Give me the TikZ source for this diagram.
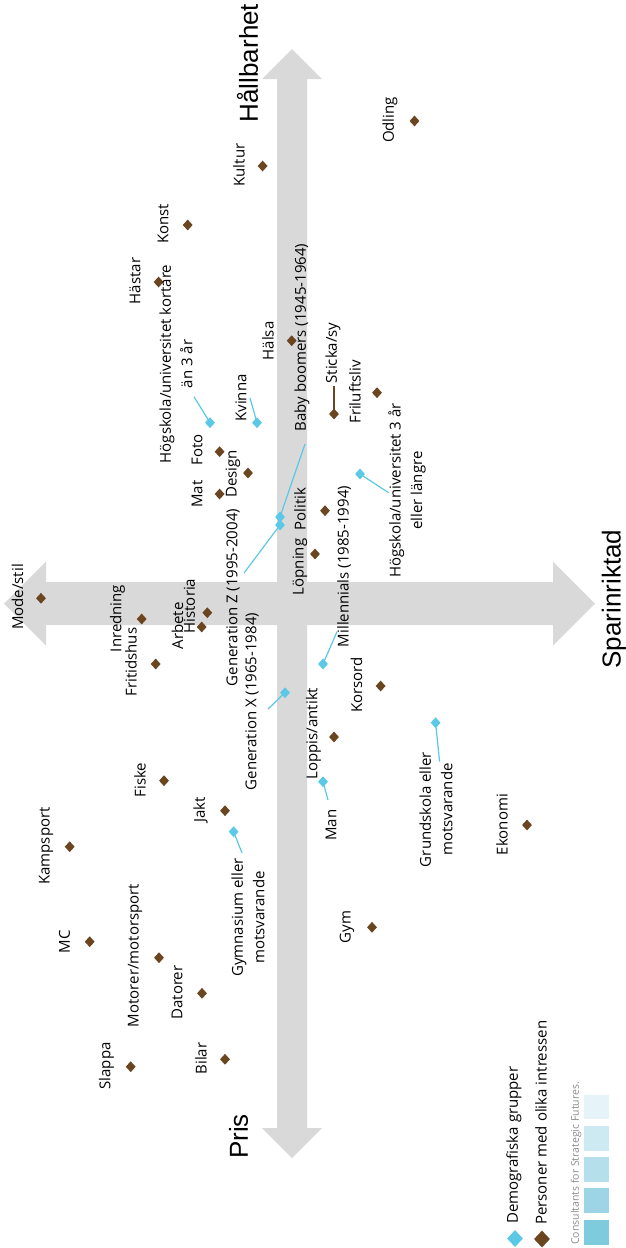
\documentclass[tikz,border=0pt]{standalone}
\usepackage{fontspec}
\setmainfont{Open Sans}
\newfontfamily\axisfont{Liberation Sans}
\usetikzlibrary{shapes.geometric}
\definecolor{axisgray}{HTML}{D9D9D9}
\definecolor{dbrown}{HTML}{6B4520}
\definecolor{dcyan}{HTML}{5BC8E6}
\definecolor{sqa}{HTML}{E6F4F9}
\definecolor{sqb}{HTML}{CDE9F2}
\definecolor{sqc}{HTML}{B5DFEB}
\definecolor{sqd}{HTML}{9DD5E6}
\definecolor{sqe}{HTML}{7FCBDE}
\definecolor{brandgray}{HTML}{8C8C8C}
\tikzset{
  lbl/.style={rotate=90, inner sep=0pt, align=center, font=\fontsize{15}{21.5}\selectfont},
  axlbl/.style={rotate=90, inner sep=0pt, font=\axisfont\fontsize{26}{30}\selectfont},
  bd/.style={diamond, fill=dbrown, inner sep=0pt, minimum width=10pt, minimum height=11pt},
  cd/.style={diamond, fill=dcyan, inner sep=0pt, minimum width=10pt, minimum height=11pt},
  cl/.style={draw=dcyan, line width=1.2pt},
  bl/.style={draw=dbrown, line width=1.2pt},
  arrowshape/.style={fill=axisgray, draw=none},
  sq/.style={draw=none, minimum width=25pt, minimum height=24.5pt, inner sep=0pt}
}
\begin{document}
\begin{tikzpicture}[x=1pt,y=-1pt]
\useasboundingbox (0,0) rectangle (625,1248);
% axes
\fill[arrowshape] (292,49) -- (322,79) -- (307,79) -- (307,1128) -- (322,1128) -- (292,1158) -- (262,1128) -- (277,1128) -- (277,79) -- (262,79) -- cycle;
\fill[arrowshape] (4,603.5) -- (46,561.5) -- (46,582) -- (553,582) -- (553,561.5) -- (595,603.5) -- (553,645.5) -- (553,625) -- (46,625) -- (46,645.5) -- cycle;
\node[axlbl] (hall) at (247.5,63) {Hållbarhet};
\node[axlbl] (spar) at (614,599) {Sparinriktad};
\node[axlbl] (pris) at (238.5,1136.5) {Pris};

% interests (brown)
\node[lbl] (lOdling) at (390,120) {Odling};
\node[bd] (dOdling) at (414.5,121) {};
\node[lbl] (lKultur) at (239,165) {Kultur};
\node[bd] (dKultur) at (262.6,166) {};
\node[lbl] (lKonst) at (163,224) {Konst};
\node[bd] (dKonst) at (187.7,225) {};
\node[lbl] (lHastar) at (135,281) {Hästar};
\node[bd] (dHastar) at (158.6,282) {};
\node[lbl] (lHalsa) at (268,341) {Hälsa};
\node[bd] (dHalsa) at (291.7,340.7) {};
\node[lbl] (lPolitik) at (300,509) {Politik};
\node[bd] (dPolitik) at (325,510.7) {};
\node[lbl] (lLopning) at (300,567) {Löpning};
\node[bd] (dLopning) at (315,554) {};
\node[lbl] (lMat) at (197,494) {Mat};
\node[bd] (dMat) at (219.6,494) {};
\node[lbl] (lFoto) at (197,450) {Foto};
\node[bd] (dFoto) at (219.6,451.7) {};
\node[lbl] (lDesign) at (233,474) {Design};
\node[bd] (dDesign) at (248,473) {};
\node[lbl] (lSticka) at (333,353) {Sticka/sy};
\node[bd] (dSticka) at (334,414) {};
\node[lbl] (lFril) at (355,392) {Friluftsliv};
\node[bd] (dFril) at (377,392.7) {};
\node[lbl] (lMode) at (17.5,597) {Mode/stil};
\node[bd] (dMode) at (41,598.3) {};
\node[lbl] (lInred) at (117.5,618.5) {Inredning};
\node[bd] (dInred) at (141.7,619) {};
\node[lbl] (lFrit) at (131,662) {Fritidshus};
\node[bd] (dFrit) at (155.7,664) {};
\node[lbl] (lArb) at (177.5,626) {Arbete};
\node[bd] (dArb) at (201.7,627) {};
\node[lbl] (lHist) at (189.5,606) {Historia};
\node[bd] (dHist) at (207.3,612.7) {};
\node[lbl] (lLoppis) at (313.5,733.5) {Loppis/antikt};
\node[bd] (dLoppis) at (334,737) {};
\node[lbl] (lKors) at (356.5,685) {Korsord};
\node[bd] (dKors) at (380.6,686) {};
\node[lbl] (lEko) at (502,824.5) {Ekonomi};
\node[bd] (dEko) at (527,825) {};
\node[lbl] (lFiske) at (140,780) {Fiske};
\node[bd] (dFiske) at (164,780.7) {};
\node[lbl] (lJakt) at (200.5,810) {Jakt};
\node[bd] (dJakt) at (225,810.7) {};
\node[lbl] (lKamp) at (46,846) {Kampsport};
\node[bd] (dKamp) at (69.7,846.7) {};
\node[lbl] (lMotor) at (135,955.5) {Motorer/motorsport};
\node[bd] (dMotor) at (159,957.7) {};
\node[lbl] (lMC) at (64.5,941.5) {MC};
\node[bd] (dMC) at (89.7,941.7) {};
\node[lbl] (lDator) at (177,992.5) {Datorer};
\node[bd] (dDator) at (202,993.3) {};
\node[lbl] (lSlappa) at (106.6,1066) {Slappa};
\node[bd] (dSlappa) at (130.7,1066.7) {};
\node[lbl] (lBilar) at (201,1058.5) {Bilar};
\node[bd] (dBilar) at (225,1059.3) {};
\node[lbl] (lGym) at (347,927) {Gym};
\node[bd] (dGym) at (372,927.3) {};

% demographic groups (cyan)
\node[lbl] (lHogK) at (176,364) {Högskola/universitet kortare\\än 3 år};
\node[cd] (dHogK) at (210,422.7) {};
\coordinate (cHogK) at (194,396.7);
\node[lbl] (lKvinna) at (241,398) {Kvinna};
\node[cd] (dKvinna) at (257,422.7) {};
\coordinate (cKvinna) at (250,398);
\node[lbl] (lBaby) at (302,337.5) {Baby boomers (1945-1964)};
\node[cd] (dBaby) at (280,517) {};
\coordinate (cBaby) at (305,444);
\node[lbl] (lGenZ) at (233,597.5) {Generation Z (1995-2004)};
\node[cd] (dGenZ) at (280,525) {};
\coordinate (cGenZ) at (244,573);
\node[lbl] (lHogL) at (407,490.5) {Högskola/universitet 3 år\\eller längre};
\node[cd] (dHogL) at (360,474) {};
\coordinate (cHogL) at (388.6,492.7);
\node[lbl] (lMill) at (344,566.5) {Millennials (1985-1994)};
\node[cd] (dMill) at (323,664) {};
\coordinate (cMill) at (337,631.7);
\node[lbl] (lGenX) at (252,701.5) {Generation X (1965-1984)};
\node[cd] (dGenX) at (285,692.7) {};
\coordinate (cGenX) at (268,709);
\node[lbl] (lGrund) at (436,809.5) {Grundskola eller\\motsvarande};
\node[cd] (dGrund) at (435.6,722.7) {};
\coordinate (cGrund) at (439.6,761.7);
\node[lbl] (lMan) at (331,825) {Man};
\node[cd] (dMan) at (323,781.7) {};
\coordinate (cMan) at (328,800);
\node[lbl] (lGymn) at (248,917.5) {Gymnasium eller\\motsvarande};
\node[cd] (dGymn) at (233.6,831.7) {};
\coordinate (cGymn) at (242,853);
\coordinate (cSticka) at (334,386);

\draw[cl] (cHogK) -- (dHogK.center);
\draw[cl] (cKvinna) -- (dKvinna.center);
\draw[cl] (cBaby) -- (dBaby.center);
\draw[cl] (cGenZ) -- (dGenZ.center);
\draw[cl] (cHogL) -- (dHogL.center);
\draw[cl] (cMill) -- (dMill.center);
\draw[cl] (cGenX) -- (dGenX.center);
\draw[cl] (cGrund) -- (dGrund.center);
\draw[cl] (cMan) -- (dMan.center);
\draw[cl] (cGymn) -- (dGymn.center);
\draw[bl] (cSticka) -- (dSticka.center);

% legend
\node[cd, minimum width=16pt, minimum height=17pt] (legC) at (515,1238.5) {};
\node[lbl, anchor=west] (legCl) at (514,1224) {Demografiska grupper};
\node[bd, minimum width=16pt, minimum height=17pt] (legB) at (542,1239) {};
\node[lbl, anchor=west] (legBl) at (541,1225) {Personer med olika intressen};
\node[rotate=90, inner sep=0pt, anchor=west, text=brandgray, font=\fontsize{10.5}{12}\selectfont] (brand) at (576,1245) {Consultants for Strategic Futures.};
\node[sq, fill=sqa] (sq1) at (596.5,1107) {};
\node[sq, fill=sqb] (sq2) at (596.5,1138.5) {};
\node[sq, fill=sqc] (sq3) at (596.5,1169.5) {};
\node[sq, fill=sqd] (sq4) at (596.5,1200.5) {};
\node[sq, fill=sqe] (sq5) at (596.5,1232.5) {};
\end{tikzpicture}
\end{document}
